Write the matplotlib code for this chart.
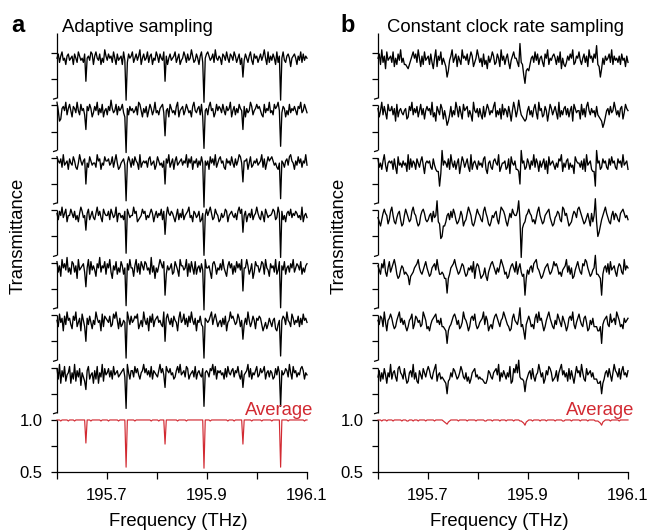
import numpy as np
import matplotlib
matplotlib.use("Agg")
import matplotlib.pyplot as plt
import matplotlib.transforms as mtransforms

plt.rcParams['font.family'] = ['Liberation Sans', 'DejaVu Sans']

# ---------------- data ----------------
FREQ_START, FREQ_STOP = 195.6, 196.1            # THz
X_TICKS = [195.6, 195.7, 195.8, 195.9, 196.0, 196.1]
X_TICK_LABELS = ['', '195.7', '', '195.9', '', '196.1']
PANEL_LETTERS = ['a', 'b']
PANEL_TITLES = ['Adaptive sampling', 'Constant clock rate sampling']
AVERAGE_LABEL = 'Average'
X_LABEL = 'Frequency (THz)'
Y_LABEL = 'Transmittance'

# transmittance samples, one character per sample:
#   value = TOP - STEP * CODE.index(ch)
CODE = "0123456789abcdefghijklmnopqrstuvwxyzABCDEFGHIJKLMNOPQRSTUVWXYZ"
SCAN_TOP, SCAN_STEP = 1.29, 0.02
AVG_TOP, AVG_STEP = 1.12, 0.01

# panel a, individual scans (top to bottom)
ADAPTIVE_SCANS = [
    "hfjgeihkgf ihgkfhjegi hjfshgiefk gehifkhjdg ifhgjehkfi hgkeiBjfhg ejhfigdkhf ihejgfkhie gjfhiesgkh fihgejhfki "
    "hegjfihdgj ifhkgejChf egihfjdhig hkfgiehjfg iegjhfkhqi fhjgeikfhg jhfigdhkej gifhkejgBh eijgfhlhgf hkgiejfigh",
    "dhmlgfhdjg ehkfgidhje hgjqfhegki fhdjgiekhg jfhcgihejf hgeikBgjfh gihfjdehkg ifkhegjhdi hjgfeithgk egihjfdkhg "
    "fjhegihkfd higfjekzhg jfdhgkiehf giehjfhgdk hfjgieghqf kgihdfjhge gfhjkeighd ihjegfdhyi fgkhjeighf hjfgdihegi",
    "eghfjdihgk fhiegjkhdg igfrhjegih hjdgfkhieg gfihejgdhk jhgfizhegj fieghkdjhg hgjfeihgki egihjgrfhd jhfkgeihgf "
    "ighdjfhekg hfjgiehCgi gkehfidjhf ehgjkfhgie hjfigdehqg gfkhejighf ihgdjfkheg fegihjkhyg hjgfiedghk giehfjghdi",
    "gjfhdigekh hegifjhkgd fihogejhfi jgdhfikegh hfjegihdkg gihjfzegih hdgfkjiheg fjhigegkhf ighejfqhdg hfgikhejgi "
    "ejhgfdihkf gihfkjgAhe hfdgjieghk jgihefkhgf higjfdgeph fkhgiejhgd gijfhkegih hgefjidgBf jhkgfheigh fgihjdkhgi",
    "ejgldhficj hkefjgmdih gfjqhdkeig ilfhcjghek fhdjmgiekh jegkhzfidh hlgdjfkegi efihkcjgmh jgdfheukgi hfkjegildg "
    "gihdlfjehk ekhgjfiBdh hgjmfegkhi fidhjlgehf kgjehfidsh hdgkifmjeg gjhefkdhil fhgjdkieAg iekhgjfhdj hfgiekhjgf",
    "hkeigmfjdh gjlfhdkigm ehkrgjfilh jdgihmekfg hifkjegdhl gkjhizdgjf ihfgeljhkd hjgmfiekhg fihjkdrgeh jgkfhimgdi "
    "hejgkfidhj gmhifjkzgh ihfdjgehki hkgjfmihdg fhjiegkhqj gjdhkifhlg hfgjmkiljg ikhglmjhyh fgjdhikegj hifkgjehgi",
    "fkdmgjelih emhkdlgjfn hjlpgekihm gkemhjdlfi hfjgkeihgj ihgfjydhkg gjehfikhgd hfigjekghi jgdhfioegh fihkjgehdi "
    "hgjefkihgj ekhgijfxhg hjfgdiekgh gihkfjehig fjgheikgoi hgdjfkhige jifhgekhgj ghkjfiehxg ihfgjdhkeh gjhifegkhi",
]
ADAPTIVE_AVERAGE = (
    "cccdcccccd ccccdccccc cccycccdcc cccccdcccc cdcccccccd cccccVcccc ccdccccccc cccccdcccc cdcccczccc ccccccdccc "
    "cccdcccccc cccccccWcc ccdccccccc ccccccdccc cdcccccczc cccccdcccc cccdcccccc cdccccccVc ccccdccccc cccccccdcc")

# panel b, individual scans (top to bottom)
CONSTANT_SCANS = [
    "hfkdjgmeih gjelhkfidj hkklmkigeh fjdhlgkeih gkfjmhdlgi ekhjlqnigd jhflgikdhg ifkhegljhd gjhlfkimgj hegkjfhldi "
    "gkhfjmigeh hjlajkptnm nkhgjeifkh gjlfhdkhig fhkgjemhkl jgifhdkjgh eikhfjgldh gjfhbklqmh kgihfjdkgi hjgkfihlgj",
    "gkhdjfileh hfjgmekhgi jhglkfhdjg ifkhejglhf hgjdkimfhj eglhkomjfk hjdgkfileh gfkhjmdhig kgjlfkhegj hifdkhjgle "
    "jghkfimhdg khcgjklmlh fjhkgeildh gkjfhmiegj hfildkhjgf jgkhfmegih hlejgkfdhj gihkfjklmp nkhgjfihdg jhkgfliegh",
    "fjhkgdilhg hgkfjmeihj gihldkfjgh kfhjgeimhg hgjkfiklls mbighjfkdh jgkhfmiegj hfjldkhgik gihjfekmhg jkgfhidljh "
    "hgkjfmehig kklrbhgkjf hkgidjfhlg jhfkgmeihg ikhjfgdlhj gfkhjimegh hjgkfldihg kllsbhgkjf hgjkfiehgj kfhgjdihgk",
    "ikmjgeghlj fdhkligfjm lhegikjfdg hkmlhfegjk jhgkfihakl srmmkhgjfi egjlkifhmk jgdfhlmkhe ghjkfdgilm khigfjlhde "
    "fhkmjgiegh hfajBnlkhg eghkjlifdh jlkhgfeikm lihfgjkdeh gjmlkhfgie dfhjlkigjm gkh9krpmjh fdgiklhfjg hjkgfegihj",
    "gikfhdjlhe jhfdgkmlig hkjklplkjh gfdhjkigeh jlkhgfidhk kjkmmtmkhg fdgikjhfgj lkhigjemhf gjmlkhlnjh fegikhjgdf "
    "hkjmligfhj ekhfjlkumi khgjfedhik mljhgfikjh egfhkjlihg djgkhmlige hjkfgdehjl kihbkklmuk hgjfkeihgj lhfgjkdigh",
    "hjfgkdimhg egjlkhfdig jhkmkhgelj fgihkjdfhl kmjhgfeihj gkklmsmkjh fegjhlkidg hjmkgfhejl kihgdjfhmk jlhfegikhg "
    "dfhjkmlgeh ijgbkjmqjh fhkjlgeidh gjmkhfdgik lhjegikfhj mkgfhdjlig ehjkgfimlh jgkkkmmksj hgfjkeihgj dfhkjlgihg",
    "jglhkfimhj dkhgjlfehi kfjmlhgjdk hlmgikfhjg egjkhfdlih kjklmrlkhj fgikjhegjk hljmkhgfji kjkklmmkgh jkhgfidlhj "
    "gikhjemlfh dhbjkklqlj hgkfjlihdg jhmkgiefhl kjglhfdigj hlfkgjmieh gjdhklfihg jhkkkmmlrm khgjfilhdg hjfkgeihjg",
]
CONSTANT_AVERAGE = (
    "cccdcccdcc ccdccccccd cccddcccdc ccdcccccdc cccccdcccc ccdefgedcc ccccdccccc cdccccccdc cccccddccc cdcccccdcc "
    "ccdcccccdc cccddefhed cccdcccccd ccccdccccc cdcccccddc ccccdccccc cdcccccdcc cccdddefhe dccccdcccc ccdccccccc")

PANELS = [(ADAPTIVE_SCANS, ADAPTIVE_AVERAGE), (CONSTANT_SCANS, CONSTANT_AVERAGE)]


def decode(s, top, step):
    s = s.replace(' ', '')
    return top - step * np.array([CODE.index(c) for c in s])


# ---------------- layout ----------------
W, H = 652, 531
RED = '#d22a32'
STACK = 0.5
AX_BOTTOM_PX, AX_HEIGHT_PX, AX_WIDTH_PX = 472.4, 439.4, 250
PX_PER_UNIT = 104.86
AXES_X_PX = [57, 378]
LETTER_X_PX = [11, 340]
TITLE_X_PX = [62, 387]

fig = plt.figure(figsize=(W / 100, H / 100), dpi=100)

for p, (scans, avg) in enumerate(PANELS):
    x0 = AXES_X_PX[p]
    ax = fig.add_axes([x0 / W, (H - AX_BOTTOM_PX) / H, AX_WIDTH_PX / W, AX_HEIGHT_PX / H])
    ymin = 0.5
    ymax = ymin + AX_HEIGHT_PX / PX_PER_UNIT
    ax.set_xlim(FREQ_START, FREQ_STOP)
    ax.set_ylim(ymin, ymax)

    n = len(scans)
    # individual scans, stacked
    for i, s in enumerate(scans):
        vals = decode(s, SCAN_TOP, SCAN_STEP)
        f = np.linspace(FREQ_START, FREQ_STOP, len(vals))
        off = STACK * (n - i)
        ax.plot(f, vals + off, color='black', lw=0.95, clip_on=False)
    # average
    vals = decode(avg, AVG_TOP, AVG_STEP)
    f = np.linspace(FREQ_START, FREQ_STOP, len(vals))
    ax.plot(f, vals, color=RED, lw=0.85, clip_on=False)

    # broken left axis
    for sp in ['left', 'top', 'right']:
        ax.spines[sp].set_visible(False)
    ax.spines['bottom'].set_linewidth(0.9)
    dx_px = (FREQ_STOP - FREQ_START) / AX_WIDTH_PX
    dy_px = 1.0 / PX_PER_UNIT
    seg_kw = dict(color='black', lw=0.9, clip_on=False, solid_capstyle='butt')
    ax.plot([FREQ_START, FREQ_START], [0.5, 1.0], **seg_kw)
    for k in range(1, n + 1):
        top = ymax if k == n else 1.0 + STACK * k
        bot = 0.57 + STACK * k
        ax.plot([FREQ_START, FREQ_START], [bot, top], **seg_kw)
        ax.plot([FREQ_START, FREQ_START - 4 * dx_px], [bot, bot - 1.2 * dy_px], **seg_kw)

    yt = [0.5, 0.75, 1.0]
    yl = ['0.5', '', '1.0']
    for k in range(1, n + 1):
        yt += [0.75 + STACK * k, 1.0 + STACK * k]
        yl += ['', '']
    ax.set_yticks(yt)
    ax.set_yticklabels(yl)
    ax.set_xticks(X_TICKS)
    ax.set_xticklabels(X_TICK_LABELS)
    ax.tick_params(axis='y', direction='out', length=4.5, width=0.9, labelsize=12, pad=6)
    ax.tick_params(axis='x', direction='out', length=5, width=0.9, labelsize=12, pad=6)

    # Average label
    trans = mtransforms.blended_transform_factory(ax.transAxes, ax.transData)
    ax.text(1.025, 1.047, AVERAGE_LABEL, transform=trans, ha='right', va='baseline',
            color=RED, fontsize=13.3)

    # panel texts
    fig.text(LETTER_X_PX[p] / W, 1 - 32 / H, PANEL_LETTERS[p], fontsize=17,
             fontweight='bold', ha='left', va='baseline')
    fig.text(TITLE_X_PX[p] / W, 1 - 31.5 / H, PANEL_TITLES[p], fontsize=13.3,
             ha='left', va='baseline')
    fig.text((x0 - 39) / W, 1 - 236 / H, Y_LABEL, rotation=90, fontsize=13.3,
             ha='center', va='center')
    fig.text((x0 + 121) / W, 1 - 526 / H, X_LABEL, fontsize=13.3,
             ha='center', va='baseline')

fig.savefig('out.png', dpi=100)
